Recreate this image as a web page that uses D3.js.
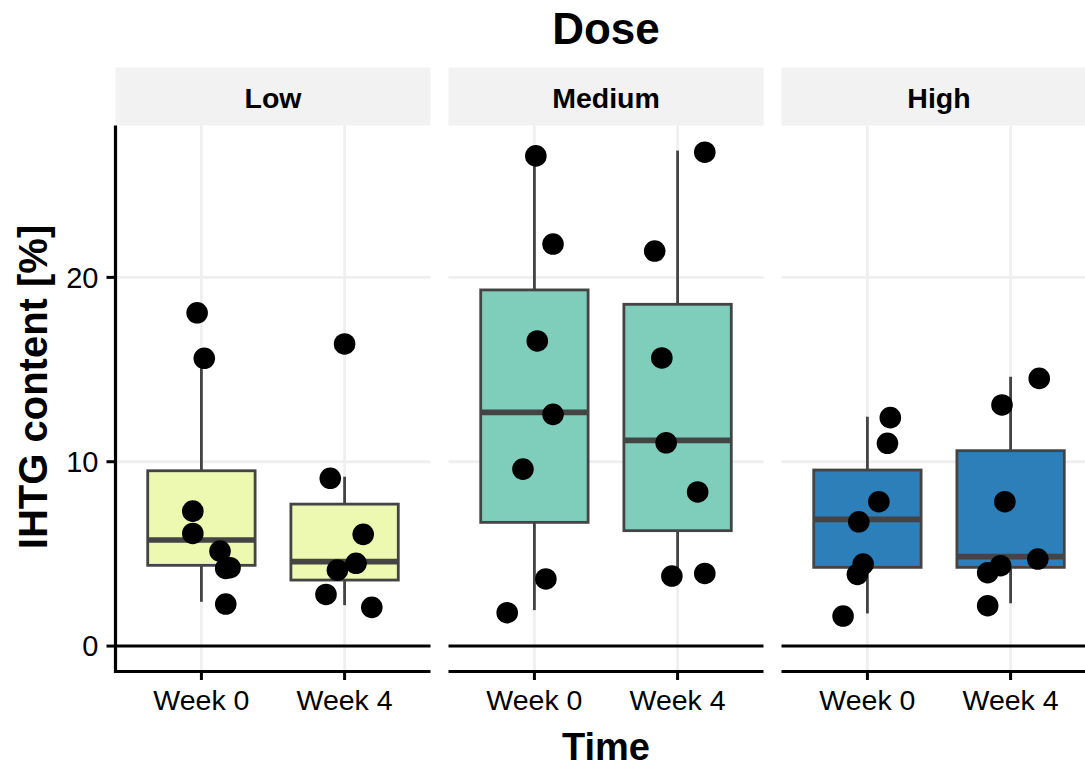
<!DOCTYPE html>
<html>
<head>
<meta charset="utf-8">
<script src="https://cdn.jsdelivr.net/npm/d3@7"></script>
<style>
  body { margin: 0; background: #fff; }
  svg { display: block; font-family: "Liberation Sans", Arial, sans-serif; }
</style>
</head>
<body>
<div id="chart"></div>
<script>
// facets, categories and colours
var doses = ["Low", "Medium", "High"];
var times = ["Week 0", "Week 4"];
var doseFill = ["#EDF8B1", "#7FCDBB", "#2C7FB8"];
var yTicks = [0, 10, 20];

// box statistics, one entry per [dose][time]
var whiskerLow  = [[2.40, 2.22], [1.95, 3.80], [1.77, 2.32]];
var q1          = [[4.38, 3.58], [6.71, 6.26], [4.27, 4.27]];
var median      = [[5.75, 4.58], [12.68, 11.16], [6.87, 4.85]];
var q3          = [[9.51, 7.70], [19.32, 18.54], [9.55, 10.60]];
var whiskerHigh = [[15.61, 9.19], [26.59, 26.88], [12.44, 14.61]];

// individual values (IHTG %) and their horizontal jitter (in category units)
var values = [
  [[18.08, 15.61, 7.32, 6.11, 5.15, 4.21, 4.25, 2.28],
   [16.39, 9.10, 6.06, 4.49, 4.12, 2.80, 2.10]],
  [[26.59, 21.81, 16.55, 12.57, 9.60, 3.64, 1.81],
   [26.79, 21.43, 15.63, 11.03, 8.36, 3.80, 3.94]],
  [[12.39, 11.00, 7.83, 6.74, 4.45, 3.89, 1.63],
   [14.52, 13.08, 7.83, 4.72, 4.36, 3.98, 2.19]]
];
var jitter = [
  [[-0.03, 0.02, -0.06, -0.06, 0.13, 0.17, 0.20, 0.17],
   [0.00, -0.10, 0.13, 0.08, -0.05, -0.13, 0.19]],
  [[0.01, 0.13, 0.02, 0.13, -0.08, 0.08, -0.19],
   [0.19, -0.16, -0.11, -0.08, 0.14, -0.04, 0.19]],
  [[0.16, 0.14, 0.08, -0.06, -0.03, -0.07, -0.17],
   [0.20, -0.06, -0.04, 0.19, -0.07, -0.16, -0.16]]
];

var width = 1085, height = 767;
var margin = {top: 125.5, left: 115.5, bottom: 671.5};
var stripTop = 67.5;
var panelW = 315;

var svg = d3.select("#chart").append("svg")
  .attr("width", width)
  .attr("height", height);

// facet positions
var fx = d3.scaleBand()
  .domain(doses)
  .range([margin.left, margin.left + 3 * panelW + 2 * 18])
  .paddingInner(18 / 333);

// x inside a panel (discrete, ggplot style expansion of 0.6)
var x = d3.scaleLinear().domain([0.4, 2.6]).range([0, panelW]);

var y = d3.scaleLinear()
  .domain([-1.38, 28.24])
  .range([margin.bottom, margin.top]);

var boxW = 0.75;
var lineCol = "#444444";

doses.forEach(function(dose, di) {
  var g = svg.append("g").attr("transform", "translate(" + fx(dose) + ",0)");

  // strip
  g.append("rect")
    .attr("x", 0).attr("y", stripTop)
    .attr("width", panelW).attr("height", margin.top - stripTop)
    .attr("fill", "#F2F2F2");
  g.append("text")
    .attr("x", panelW / 2).attr("y", 108)
    .attr("text-anchor", "middle")
    .attr("font-size", "28.5px").attr("font-weight", "bold")
    .text(dose);

  // grid
  g.selectAll(".hgrid").data(yTicks.filter(function(t) { return t > 0; }))
    .enter().append("line")
    .attr("x1", 0).attr("x2", panelW)
    .attr("y1", function(d) { return y(d); }).attr("y2", function(d) { return y(d); })
    .attr("stroke", "#EFEFEF").attr("stroke-width", 2.8);
  g.selectAll(".vgrid").data(times)
    .enter().append("line")
    .attr("x1", function(d, i) { return x(i + 1); }).attr("x2", function(d, i) { return x(i + 1); })
    .attr("y1", margin.top).attr("y2", margin.bottom)
    .attr("stroke", "#EFEFEF").attr("stroke-width", 2.8);

  // reference line at 0
  g.append("line")
    .attr("x1", 0).attr("x2", panelW)
    .attr("y1", y(0)).attr("y2", y(0))
    .attr("stroke", "#000").attr("stroke-width", 3);

  times.forEach(function(t, ti) {
    var cx = x(ti + 1);
    var half = (x(1 + boxW / 2) - x(1));
    // whiskers
    g.append("line")
      .attr("x1", cx).attr("x2", cx)
      .attr("y1", y(q3[di][ti])).attr("y2", y(whiskerHigh[di][ti]))
      .attr("stroke", lineCol).attr("stroke-width", 2.8);
    g.append("line")
      .attr("x1", cx).attr("x2", cx)
      .attr("y1", y(q1[di][ti])).attr("y2", y(whiskerLow[di][ti]))
      .attr("stroke", lineCol).attr("stroke-width", 2.8);
    // box
    g.append("rect")
      .attr("x", cx - half).attr("width", 2 * half)
      .attr("y", y(q3[di][ti])).attr("height", y(q1[di][ti]) - y(q3[di][ti]))
      .attr("fill", doseFill[di])
      .attr("stroke", lineCol).attr("stroke-width", 2.8);
    g.append("line")
      .attr("x1", cx - half).attr("x2", cx + half)
      .attr("y1", y(median[di][ti])).attr("y2", y(median[di][ti]))
      .attr("stroke", lineCol).attr("stroke-width", 5.6);
  });

  // points
  times.forEach(function(t, ti) {
    g.selectAll(".pt" + ti).data(values[di][ti])
      .enter().append("circle")
      .attr("cx", function(d, i) { return x(ti + 1 + jitter[di][ti][i]); })
      .attr("cy", function(d) { return y(d); })
      .attr("r", 10.8)
      .attr("fill", "#000");
  });

  // bottom axis
  var xa = g.append("g").attr("transform", "translate(0," + margin.bottom + ")");
  xa.append("line")
    .attr("x1", 0).attr("x2", panelW)
    .attr("stroke", "#000").attr("stroke-width", 3.2);
  xa.selectAll(".tk").data(times).enter().append("line")
    .attr("x1", function(d, i) { return x(i + 1); }).attr("x2", function(d, i) { return x(i + 1); })
    .attr("y1", 0).attr("y2", 8.5)
    .attr("stroke", "#000").attr("stroke-width", 3);
  xa.selectAll(".tl").data(times).enter().append("text")
    .attr("x", function(d, i) { return x(i + 1); })
    .attr("y", 38.5)
    .attr("text-anchor", "middle")
    .attr("font-size", "28.5px")
    .text(function(d) { return d; });
});

// left axis (first panel only)
var ya = svg.append("g").attr("transform", "translate(" + margin.left + ",0)");
ya.append("line")
  .attr("x1", 0).attr("x2", 0)
  .attr("y1", margin.top).attr("y2", margin.bottom + 1.6)
  .attr("stroke", "#000").attr("stroke-width", 3.2);
ya.selectAll(".tk").data(yTicks).enter().append("line")
  .attr("x1", -9).attr("x2", 0)
  .attr("y1", function(d) { return y(d); }).attr("y2", function(d) { return y(d); })
  .attr("stroke", "#000").attr("stroke-width", 3);
ya.selectAll(".tl").data(yTicks).enter().append("text")
  .attr("x", -17)
  .attr("y", function(d) { return y(d) + 10.2; })
  .attr("text-anchor", "end")
  .attr("font-size", "29px")
  .text(function(d) { return d; });

// titles
var midX = margin.left + (3 * panelW + 2 * 18) / 2;
svg.append("text")
  .attr("x", midX).attr("y", 44)
  .attr("text-anchor", "middle")
  .attr("font-size", "44px").attr("font-weight", "bold")
  .text("Dose");
svg.append("text")
  .attr("x", midX).attr("y", 760)
  .attr("text-anchor", "middle")
  .attr("font-size", "38px").attr("font-weight", "bold")
  .text("Time");
svg.append("text")
  .attr("transform", "translate(47,387) rotate(-90)")
  .attr("text-anchor", "middle")
  .attr("font-size", "40px").attr("font-weight", "bold")
  .text("IHTG content [%]");
</script>
</body>
</html>
